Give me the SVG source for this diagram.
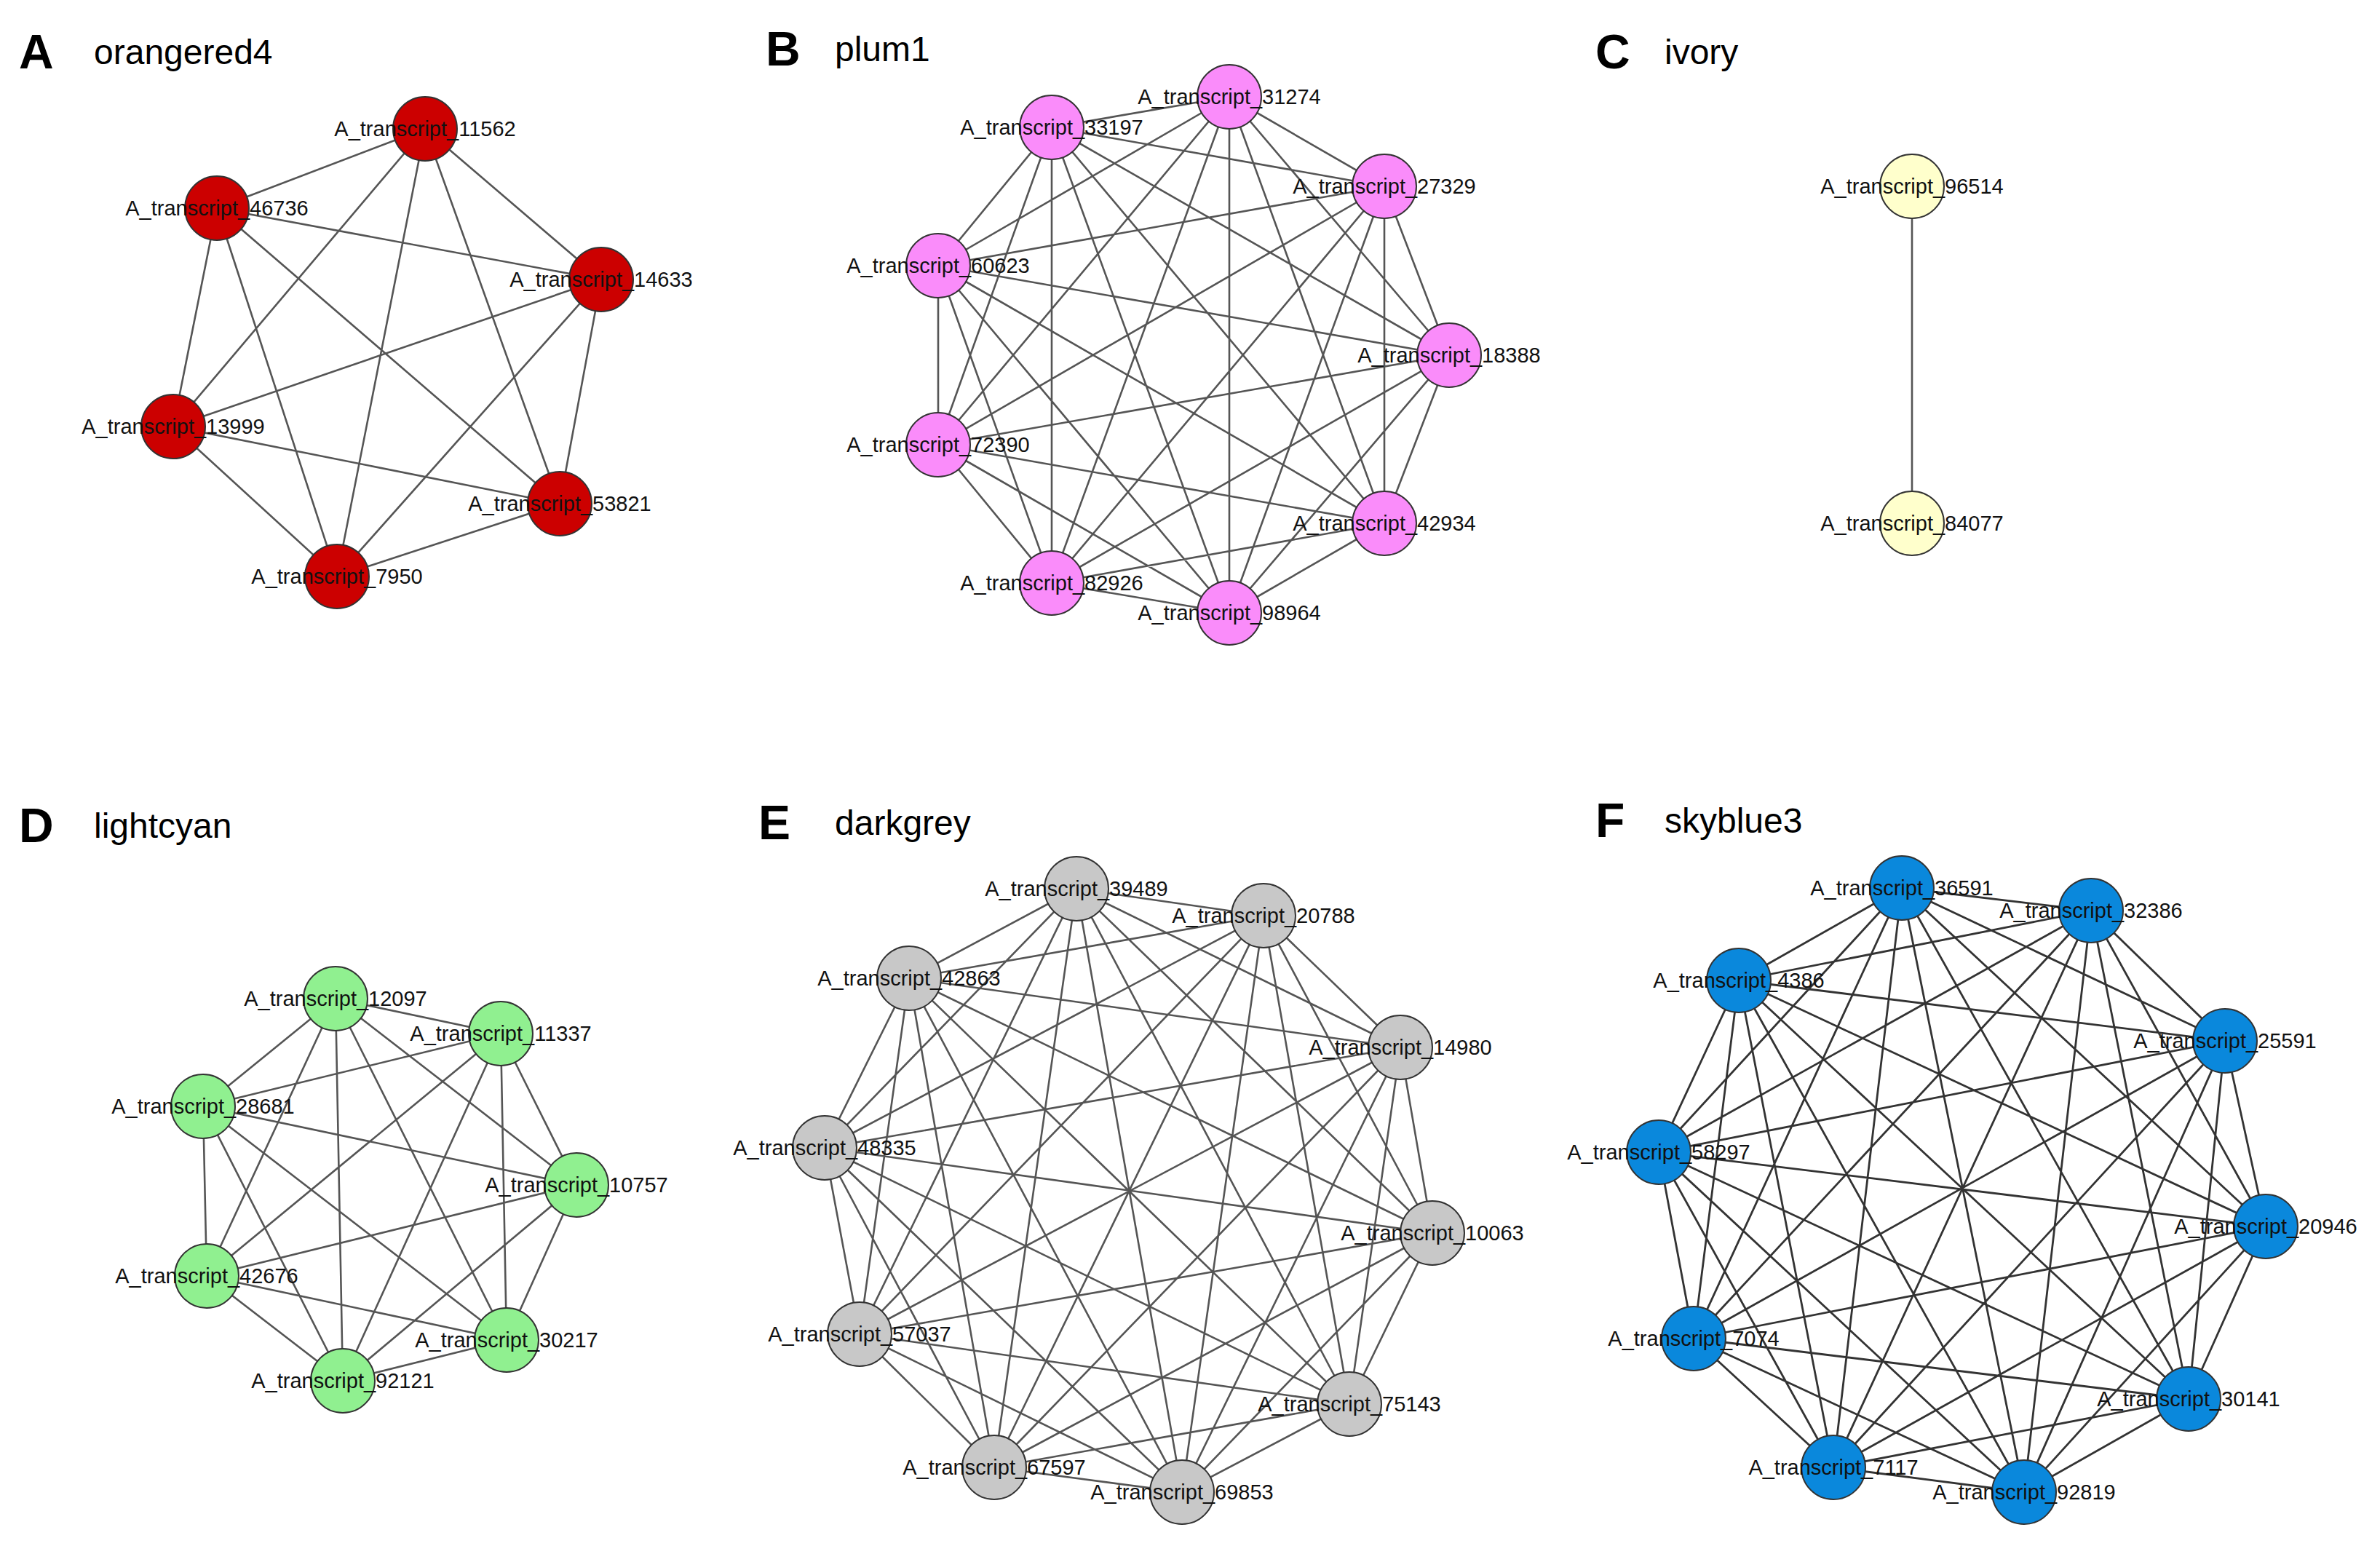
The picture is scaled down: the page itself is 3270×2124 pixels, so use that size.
<svg xmlns="http://www.w3.org/2000/svg" width="3270" height="2124" viewBox="0 0 3270 2124">
<style>
.e{fill:none;stroke:#555;stroke-width:2.6}
.ef{fill:none;stroke:#333;stroke-width:2.8}
circle{stroke:#333;stroke-width:2;r:44}
.t{font-family:"Liberation Sans",Arial,sans-serif;font-size:29px;fill:#111;text-anchor:middle}
.L{font-family:"Liberation Sans",Arial,sans-serif;font-size:66px;font-weight:bold;fill:#000}
.N{font-family:"Liberation Sans",Arial,sans-serif;font-size:48px;fill:#000}
.r{fill:#CC0000}.p{fill:#FA8CFA}.i{fill:#FFFFCC}.g{fill:#90F090}.k{fill:#C8C8C8}.b{fill:#0A88DC}
</style>
<rect width="3270" height="2124" fill="#fff"/>
<g id="titles">
<text class="L" x="26" y="94">A</text><text class="N" x="129" y="88">orangered4</text>
<text class="L" x="1052" y="90">B</text><text class="N" x="1147" y="84">plum1</text>
<text class="L" x="2192" y="94">C</text><text class="N" x="2287" y="88">ivory</text>
<text class="L" x="26" y="1157">D</text><text class="N" x="129" y="1151">lightcyan</text>
<text class="L" x="1042" y="1153">E</text><text class="N" x="1147" y="1147">darkgrey</text>
<text class="L" x="2192" y="1150">F</text><text class="N" x="2287" y="1144">skyblue3</text>
</g>
<g id="connectors">
<path class="e" d="M584 177L298 286M584 177L826 384M584 177L238 586M584 177L769 692M584 177L463 792M298 286L826 384M298 286L238 586M298 286L769 692M298 286L463 792M826 384L238 586M826 384L769 692M826 384L463 792M238 586L769 692M238 586L463 792M769 692L463 792"/>
<path class="e" d="M1689 133L1445 175M1689 133L1902 256M1689 133L1289 365M1689 133L1991 488M1689 133L1289 611M1689 133L1902 719M1689 133L1445 801M1689 133L1689 842M1445 175L1902 256M1445 175L1289 365M1445 175L1991 488M1445 175L1289 611M1445 175L1902 719M1445 175L1445 801M1445 175L1689 842M1902 256L1289 365M1902 256L1991 488M1902 256L1289 611M1902 256L1902 719M1902 256L1445 801M1902 256L1689 842M1289 365L1991 488M1289 365L1289 611M1289 365L1902 719M1289 365L1445 801M1289 365L1689 842M1991 488L1289 611M1991 488L1902 719M1991 488L1445 801M1991 488L1689 842M1289 611L1902 719M1289 611L1445 801M1289 611L1689 842M1902 719L1445 801M1902 719L1689 842M1445 801L1689 842"/>
<path class="e" d="M2627 256L2627 719"/>
<path class="e" d="M461 1372L688 1420M461 1372L279 1520M461 1372L792 1628M461 1372L284 1753M461 1372L696 1841M461 1372L471 1897M688 1420L279 1520M688 1420L792 1628M688 1420L284 1753M688 1420L696 1841M688 1420L471 1897M279 1520L792 1628M279 1520L284 1753M279 1520L696 1841M279 1520L471 1897M792 1628L284 1753M792 1628L696 1841M792 1628L471 1897M284 1753L696 1841M284 1753L471 1897M696 1841L471 1897"/>
<path class="e" d="M1479 1221L1736 1258M1479 1221L1249 1344M1479 1221L1924 1439M1479 1221L1133 1577M1479 1221L1968 1694M1479 1221L1181 1833M1479 1221L1854 1929M1479 1221L1366 2016M1479 1221L1624 2050M1736 1258L1249 1344M1736 1258L1924 1439M1736 1258L1133 1577M1736 1258L1968 1694M1736 1258L1181 1833M1736 1258L1854 1929M1736 1258L1366 2016M1736 1258L1624 2050M1249 1344L1924 1439M1249 1344L1133 1577M1249 1344L1968 1694M1249 1344L1181 1833M1249 1344L1854 1929M1249 1344L1366 2016M1249 1344L1624 2050M1924 1439L1133 1577M1924 1439L1968 1694M1924 1439L1181 1833M1924 1439L1854 1929M1924 1439L1366 2016M1924 1439L1624 2050M1133 1577L1968 1694M1133 1577L1181 1833M1133 1577L1854 1929M1133 1577L1366 2016M1133 1577L1624 2050M1968 1694L1181 1833M1968 1694L1854 1929M1968 1694L1366 2016M1968 1694L1624 2050M1181 1833L1854 1929M1181 1833L1366 2016M1181 1833L1624 2050M1854 1929L1366 2016M1854 1929L1624 2050M1366 2016L1624 2050"/>
<path class="ef" d="M2613 1220L2873 1251M2613 1220L2389 1347M2613 1220L3057 1430M2613 1220L2279 1583M2613 1220L3113 1685M2613 1220L2327 1839M2613 1220L3007 1922M2613 1220L2519 2016M2613 1220L2781 2050M2873 1251L2389 1347M2873 1251L3057 1430M2873 1251L2279 1583M2873 1251L3113 1685M2873 1251L2327 1839M2873 1251L3007 1922M2873 1251L2519 2016M2873 1251L2781 2050M2389 1347L3057 1430M2389 1347L2279 1583M2389 1347L3113 1685M2389 1347L2327 1839M2389 1347L3007 1922M2389 1347L2519 2016M2389 1347L2781 2050M3057 1430L2279 1583M3057 1430L3113 1685M3057 1430L2327 1839M3057 1430L3007 1922M3057 1430L2519 2016M3057 1430L2781 2050M2279 1583L3113 1685M2279 1583L2327 1839M2279 1583L3007 1922M2279 1583L2519 2016M2279 1583L2781 2050M3113 1685L2327 1839M3113 1685L3007 1922M3113 1685L2519 2016M3113 1685L2781 2050M2327 1839L3007 1922M2327 1839L2519 2016M2327 1839L2781 2050M3007 1922L2519 2016M3007 1922L2781 2050M2519 2016L2781 2050"/>
</g>
<g id="A_11562"><circle class="r" cx="584" cy="177" r="44"/><text class="t" x="584" y="187">A_transcript_11562</text></g>
<g id="A_46736"><circle class="r" cx="298" cy="286" r="44"/><text class="t" x="298" y="296">A_transcript_46736</text></g>
<g id="A_14633"><circle class="r" cx="826" cy="384" r="44"/><text class="t" x="826" y="394">A_transcript_14633</text></g>
<g id="A_13999"><circle class="r" cx="238" cy="586" r="44"/><text class="t" x="238" y="596">A_transcript_13999</text></g>
<g id="A_53821"><circle class="r" cx="769" cy="692" r="44"/><text class="t" x="769" y="702">A_transcript_53821</text></g>
<g id="A_7950"><circle class="r" cx="463" cy="792" r="44"/><text class="t" x="463" y="802">A_transcript_7950</text></g>
<g id="B_31274"><circle class="p" cx="1689" cy="133" r="44"/><text class="t" x="1689" y="143">A_transcript_31274</text></g>
<g id="B_33197"><circle class="p" cx="1445" cy="175" r="44"/><text class="t" x="1445" y="185">A_transcript_33197</text></g>
<g id="B_27329"><circle class="p" cx="1902" cy="256" r="44"/><text class="t" x="1902" y="266">A_transcript_27329</text></g>
<g id="B_60623"><circle class="p" cx="1289" cy="365" r="44"/><text class="t" x="1289" y="375">A_transcript_60623</text></g>
<g id="B_18388"><circle class="p" cx="1991" cy="488" r="44"/><text class="t" x="1991" y="498">A_transcript_18388</text></g>
<g id="B_72390"><circle class="p" cx="1289" cy="611" r="44"/><text class="t" x="1289" y="621">A_transcript_72390</text></g>
<g id="B_42934"><circle class="p" cx="1902" cy="719" r="44"/><text class="t" x="1902" y="729">A_transcript_42934</text></g>
<g id="B_82926"><circle class="p" cx="1445" cy="801" r="44"/><text class="t" x="1445" y="811">A_transcript_82926</text></g>
<g id="B_98964"><circle class="p" cx="1689" cy="842" r="44"/><text class="t" x="1689" y="852">A_transcript_98964</text></g>
<g id="C_96514"><circle class="i" cx="2627" cy="256" r="44"/><text class="t" x="2627" y="266">A_transcript_96514</text></g>
<g id="C_84077"><circle class="i" cx="2627" cy="719" r="44"/><text class="t" x="2627" y="729">A_transcript_84077</text></g>
<g id="D_12097"><circle class="g" cx="461" cy="1372" r="44"/><text class="t" x="461" y="1382">A_transcript_12097</text></g>
<g id="D_11337"><circle class="g" cx="688" cy="1420" r="44"/><text class="t" x="688" y="1430">A_transcript_11337</text></g>
<g id="D_28681"><circle class="g" cx="279" cy="1520" r="44"/><text class="t" x="279" y="1530">A_transcript_28681</text></g>
<g id="D_10757"><circle class="g" cx="792" cy="1628" r="44"/><text class="t" x="792" y="1638">A_transcript_10757</text></g>
<g id="D_42676"><circle class="g" cx="284" cy="1753" r="44"/><text class="t" x="284" y="1763">A_transcript_42676</text></g>
<g id="D_30217"><circle class="g" cx="696" cy="1841" r="44"/><text class="t" x="696" y="1851">A_transcript_30217</text></g>
<g id="D_92121"><circle class="g" cx="471" cy="1897" r="44"/><text class="t" x="471" y="1907">A_transcript_92121</text></g>
<g id="E_39489"><circle class="k" cx="1479" cy="1221" r="44"/><text class="t" x="1479" y="1231">A_transcript_39489</text></g>
<g id="E_20788"><circle class="k" cx="1736" cy="1258" r="44"/><text class="t" x="1736" y="1268">A_transcript_20788</text></g>
<g id="E_42863"><circle class="k" cx="1249" cy="1344" r="44"/><text class="t" x="1249" y="1354">A_transcript_42863</text></g>
<g id="E_14980"><circle class="k" cx="1924" cy="1439" r="44"/><text class="t" x="1924" y="1449">A_transcript_14980</text></g>
<g id="E_48335"><circle class="k" cx="1133" cy="1577" r="44"/><text class="t" x="1133" y="1587">A_transcript_48335</text></g>
<g id="E_10063"><circle class="k" cx="1968" cy="1694" r="44"/><text class="t" x="1968" y="1704">A_transcript_10063</text></g>
<g id="E_57037"><circle class="k" cx="1181" cy="1833" r="44"/><text class="t" x="1181" y="1843">A_transcript_57037</text></g>
<g id="E_75143"><circle class="k" cx="1854" cy="1929" r="44"/><text class="t" x="1854" y="1939">A_transcript_75143</text></g>
<g id="E_67597"><circle class="k" cx="1366" cy="2016" r="44"/><text class="t" x="1366" y="2026">A_transcript_67597</text></g>
<g id="E_69853"><circle class="k" cx="1624" cy="2050" r="44"/><text class="t" x="1624" y="2060">A_transcript_69853</text></g>
<g id="F_36591"><circle class="b" cx="2613" cy="1220" r="44"/><text class="t" x="2613" y="1230">A_transcript_36591</text></g>
<g id="F_32386"><circle class="b" cx="2873" cy="1251" r="44"/><text class="t" x="2873" y="1261">A_transcript_32386</text></g>
<g id="F_4386"><circle class="b" cx="2389" cy="1347" r="44"/><text class="t" x="2389" y="1357">A_transcript_4386</text></g>
<g id="F_25591"><circle class="b" cx="3057" cy="1430" r="44"/><text class="t" x="3057" y="1440">A_transcript_25591</text></g>
<g id="F_58297"><circle class="b" cx="2279" cy="1583" r="44"/><text class="t" x="2279" y="1593">A_transcript_58297</text></g>
<g id="F_20946"><circle class="b" cx="3113" cy="1685" r="44"/><text class="t" x="3113" y="1695">A_transcript_20946</text></g>
<g id="F_7074"><circle class="b" cx="2327" cy="1839" r="44"/><text class="t" x="2327" y="1849">A_transcript_7074</text></g>
<g id="F_30141"><circle class="b" cx="3007" cy="1922" r="44"/><text class="t" x="3007" y="1932">A_transcript_30141</text></g>
<g id="F_7117"><circle class="b" cx="2519" cy="2016" r="44"/><text class="t" x="2519" y="2026">A_transcript_7117</text></g>
<g id="F_92819"><circle class="b" cx="2781" cy="2050" r="44"/><text class="t" x="2781" y="2060">A_transcript_92819</text></g>
</svg>
